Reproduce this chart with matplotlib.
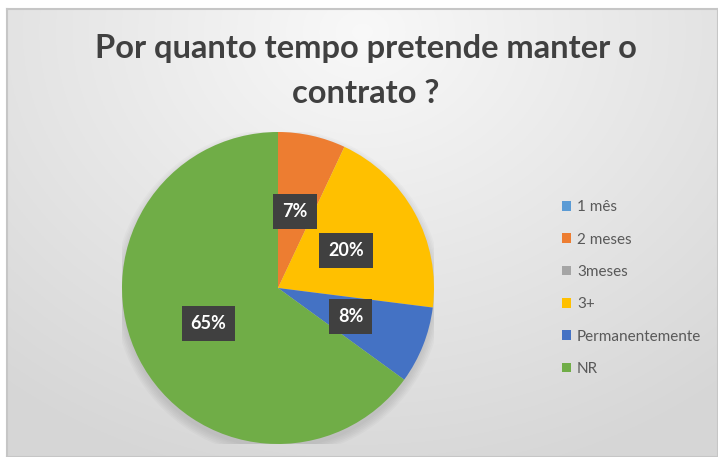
import matplotlib.pyplot as plt
import numpy as np

categorias = ['1 mês', '2 meses', '3meses', '3+', 'Permanentemente', 'NR']
valores = [0, 7, 0, 20, 8, 65]
cores = ['#5B9BD5', '#ED7D31', '#A5A5A5', '#FFC000', '#4472C4', '#70AD47']
titulo = 'Por quanto tempo pretende manter o\ncontrato ?'

W, H = 718, 457
fig = plt.figure(figsize=(W / 100, H / 100), dpi=100)
fig.patch.set_facecolor('white')

# fundo do grafico com gradiente radial (estilo Excel)
bg = fig.add_axes([7 / W, 0, 1 - 7 / W, (H - 9) / H])
yy, xx = np.mgrid[0:1:300j, 0:1:400j]
d = np.sqrt(((xx - 0.5) * 1.3) ** 2 + (yy - 0.05) ** 2)
g = np.clip(0.975 - 0.13 * d, 0.84, 0.975)
bg.imshow(np.dstack([g, g, g]), extent=[0, 1, 0, 1], origin='upper', aspect='auto')
bg.set_xticks([])
bg.set_yticks([])
for s in bg.spines.values():
    s.set_color('#c6c6c6')
    s.set_linewidth(1.5)

fig.text(366 / W, 1 - 71 / H, titulo, ha='center', va='center', fontsize=23.5,
         fontweight='bold', color='#404040', family='Lato', linespacing=1.65)

# pizza
cx, cy, r = 278, 288, 156
ax = fig.add_axes([(cx - r) / W, (H - cy - r) / H, 2 * r / W, 2 * r / H])

# sombra suave (mais para baixo)
for k in range(6):
    ax.add_patch(plt.Circle((0.0, -0.03), 1.0 + 0.01 * k, color='black',
                            alpha=0.02, lw=0, zorder=0))

wedges, textos, pct = ax.pie(valores, colors=cores, startangle=90, counterclock=False,
                             radius=1, autopct=lambda p: '%d%%' % round(p) if p > 0 else '',
                             pctdistance=0.5, wedgeprops=dict(linewidth=0))
ax.set_xlim(-1, 1)
ax.set_ylim(-1, 1)
ax.set_aspect('auto')
ax.axis('off')
for w in wedges:
    w.set_zorder(2)
for t in pct:
    t.set_color('white')
    t.set_fontweight('bold')
    t.set_fontsize(13)
    t.set_family('Lato')
    t.set_zorder(5)
    t.set_bbox(dict(boxstyle='square,pad=0.5', facecolor='#404040', edgecolor='none'))

leg = fig.legend(wedges, categorias, loc='center left',
                 bbox_to_anchor=(548 / W, 1 - 288 / H), frameon=False,
                 fontsize=11, handlelength=0.6, handleheight=0.6,
                 handletextpad=0.4, labelspacing=1.2)
for t in leg.get_texts():
    t.set_color('#595959')
    t.set_family('Lato')

fig.savefig('out.png', dpi=100)
